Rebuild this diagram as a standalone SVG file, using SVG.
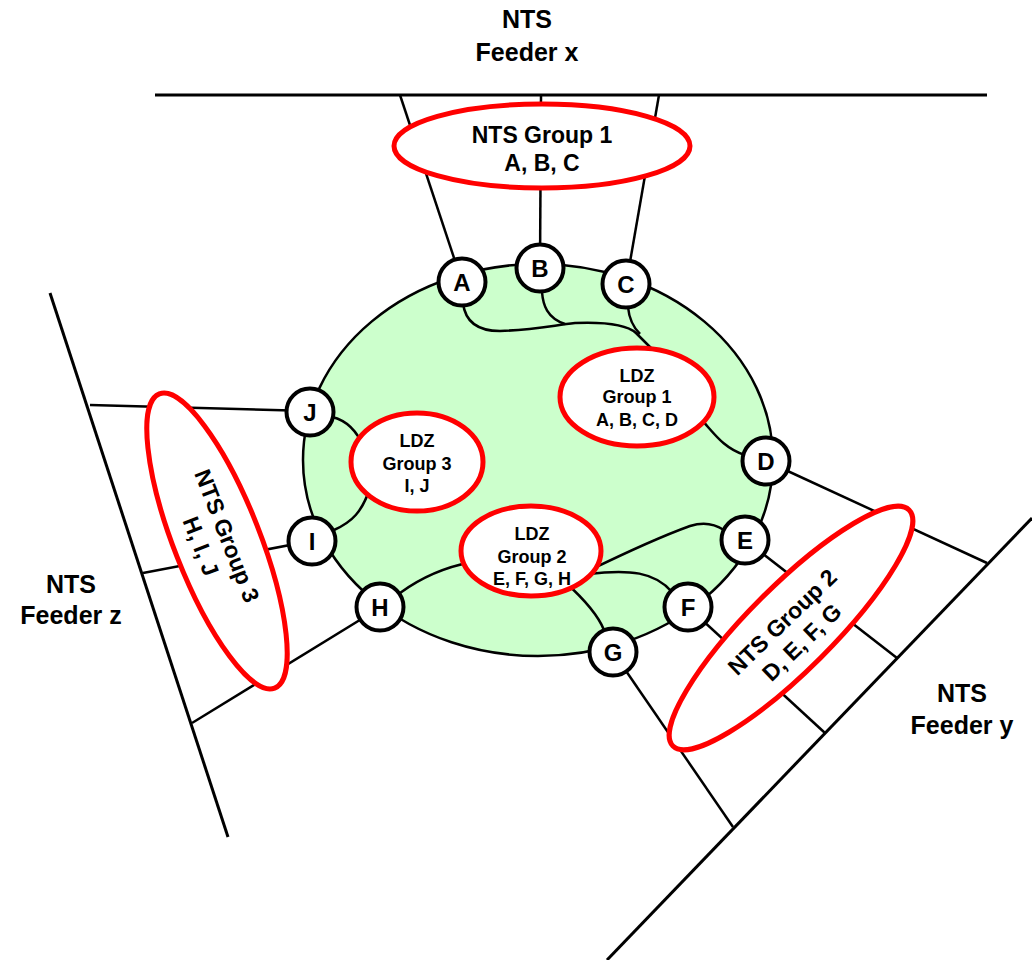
<svg xmlns="http://www.w3.org/2000/svg" width="1032" height="960" viewBox="0 0 1032 960">
<style>
  text { font-family: "Liberation Sans", Arial, sans-serif; font-weight: bold; fill: #000; text-anchor: middle; }
  .feeder { font-size: 25px; }
  .nts { font-size: 23px; }
  .ldz { font-size: 18px; }
  .lbl { font-size: 24px; }
  .wire { fill: none; stroke: #000; stroke-width: 2.5; }
  .main { fill: none; stroke: #000; stroke-width: 3; }
  .grp { fill: #fff; stroke: #ff0000; stroke-width: 5; }
  .node { fill: #fff; stroke: #000; stroke-width: 4; }
</style>
<rect width="1032" height="960" fill="#fff"/>

<g id="ldz-network">
  <ellipse cx="538" cy="460" rx="235" ry="196" fill="#ccffcc" stroke="#000" stroke-width="2.5"/>
</g>

<g id="connectors">
  <path class="main" d="M155,95 L987,95"/>
  <path class="main" d="M50,293 L228,837"/>
  <path class="main" d="M1032,518 L607,960"/>
  <path class="wire" d="M400,95 L462,282"/>
  <path class="wire" d="M541,95 L540,268"/>
  <path class="wire" d="M659,95 L626,285"/>
  <path class="wire" d="M90,405 L310,411"/>
  <path class="wire" d="M143,573 L311,541"/>
  <path class="wire" d="M192,723 L381,607"/>
  <path class="wire" d="M766,461 L987,563"/>
  <path class="wire" d="M745,540 L897,658"/>
  <path class="wire" d="M688,607 L825,733"/>
  <path class="wire" d="M613,652 L733,827"/>
  <path class="wire" d="M463,303 C465,320 475,331 500,331 C530,330 550,326 575,323 C600,322 625,323 636,333 L656,353"/>
  <path class="wire" d="M542,292 C543,305 547,318 565,324"/>
  <path class="wire" d="M628,307 C629,318 632,326 640,334"/>
  <path class="wire" d="M698,416 C712,430 722,448 745,455"/>
  <path class="wire" d="M332,417 C345,420 356,428 364,448"/>
  <path class="wire" d="M334,530 C352,522 362,512 370,488"/>
  <path class="wire" d="M400,593 C415,582 440,568 472,562"/>
  <path class="wire" d="M565,582 C585,600 598,615 604,630"/>
  <path class="wire" d="M588,571 C625,553 665,535 690,526 C705,521 715,524 724,530"/>
  <path class="wire" d="M588,574 C630,569 655,572 672,592"/>
</g>

<g id="feeder-x"><text class="feeder" x="527" y="28">NTS</text><text class="feeder" x="527" y="61">Feeder x</text></g>
<g id="feeder-z"><text class="feeder" x="71" y="593">NTS</text><text class="feeder" x="71" y="624">Feeder z</text></g>
<g id="feeder-y"><text class="feeder" x="962" y="702">NTS</text><text class="feeder" x="962" y="734">Feeder y</text></g>

<g id="nts-group-1">
  <ellipse class="grp" cx="542" cy="146" rx="148" ry="42"/>
  <text class="nts" x="542" y="143">NTS Group 1</text>
  <text class="nts" x="542" y="171">A, B, C</text>
</g>
<g id="nts-group-3">
  <ellipse class="grp" cx="217" cy="541" rx="158" ry="43" transform="rotate(68.6 217 541)"/>
  <g transform="translate(214,541) rotate(68.6)">
    <text class="nts" x="0" y="-6">NTS Group 3</text>
    <text class="nts" x="0" y="22">H, I, J</text>
  </g>
</g>
<g id="nts-group-2">
  <ellipse class="grp" cx="791" cy="628" rx="167" ry="42" transform="rotate(-45 791 628)"/>
  <g transform="translate(792,632) rotate(-44)">
    <text class="nts" x="0" y="-6">NTS Group 2</text>
    <text class="nts" x="0" y="22">D, E, F, G</text>
  </g>
</g>

<g id="ldz-group-1">
  <ellipse class="grp" cx="637" cy="397" rx="77" ry="49"/>
  <text class="ldz" x="637" y="382">LDZ</text>
  <text class="ldz" x="637" y="403">Group 1</text>
  <text class="ldz" x="637" y="426">A, B, C, D</text>
</g>
<g id="ldz-group-3">
  <ellipse class="grp" cx="417" cy="462" rx="66" ry="49"/>
  <text class="ldz" x="417" y="447">LDZ</text>
  <text class="ldz" x="417" y="470">Group 3</text>
  <text class="ldz" x="417" y="492">I, J</text>
</g>
<g id="ldz-group-2">
  <ellipse class="grp" cx="531" cy="551" rx="70" ry="45"/>
  <text class="ldz" x="532" y="540">LDZ</text>
  <text class="ldz" x="532" y="563">Group 2</text>
  <text class="ldz" x="532" y="585">E, F, G, H</text>
</g>

<g id="node-A"><circle class="node" cx="462" cy="282" r="23.5"/><text class="lbl" x="462" y="291">A</text></g>
<g id="node-B"><circle class="node" cx="540" cy="268" r="23.5"/><text class="lbl" x="540" y="277">B</text></g>
<g id="node-C"><circle class="node" cx="626" cy="284" r="23.5"/><text class="lbl" x="626" y="293">C</text></g>
<g id="node-D"><circle class="node" cx="766" cy="461" r="23.5"/><text class="lbl" x="766" y="470">D</text></g>
<g id="node-E"><circle class="node" cx="745" cy="540" r="23.5"/><text class="lbl" x="745" y="549">E</text></g>
<g id="node-F"><circle class="node" cx="688" cy="607" r="23.5"/><text class="lbl" x="688" y="616">F</text></g>
<g id="node-G"><circle class="node" cx="613" cy="652" r="23.5"/><text class="lbl" x="613" y="661">G</text></g>
<g id="node-H"><circle class="node" cx="380" cy="607" r="23.5"/><text class="lbl" x="380" y="616">H</text></g>
<g id="node-I"><circle class="node" cx="312" cy="541" r="23.5"/><text class="lbl" x="312" y="550">I</text></g>
<g id="node-J"><circle class="node" cx="310" cy="412" r="23.5"/><text class="lbl" x="310" y="421">J</text></g>
</svg>
